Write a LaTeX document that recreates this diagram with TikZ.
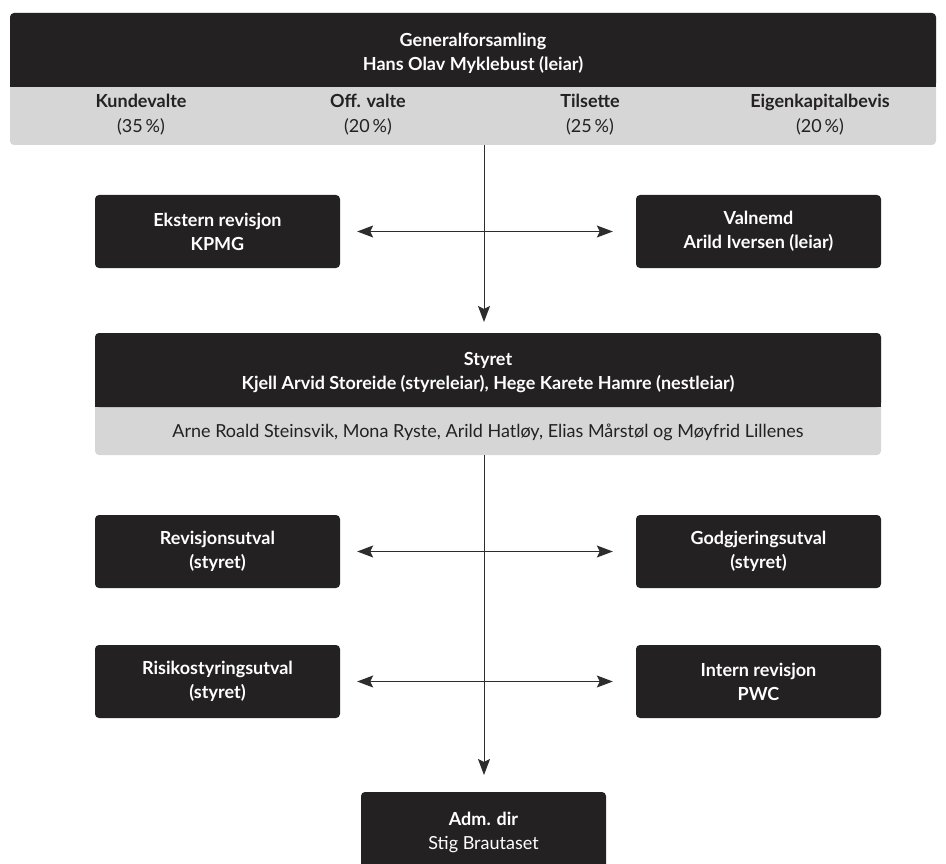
\documentclass[tikz,border=0pt]{standalone}
\usepackage{fontspec}
\setmainfont{Lato}
\usetikzlibrary{arrows.meta}
\definecolor{darkbox}{RGB}{35,33,34}
\definecolor{band}{RGB}{214,214,214}
\definecolor{linec}{RGB}{45,45,45}
\begin{document}
\begin{tikzpicture}[x=1pt,y=-1pt,
  dbox/.style={fill=darkbox,rounded corners=4pt,text=white,font=\fontsize{18}{24}\selectfont\bfseries,align=center,inner sep=0pt},
  sbox/.style={dbox,minimum width=245pt,minimum height=73pt},
  ttxt/.style={text=white,font=\fontsize{18}{24}\selectfont\bfseries,align=center,inner sep=0pt},
  bandtxt/.style={text=darkbox,font=\fontsize{18}{25}\selectfont,align=center,inner sep=0pt},
  tip/.style={Stealth[length=16pt,width=12pt,inset=3pt]},
  arr/.style={draw=linec,line width=1pt,-{Stealth[length=16pt,width=12pt,inset=3pt]}},
  darr/.style={draw=linec,line width=1pt,{Stealth[length=16pt,width=12pt,inset=3pt]}-{Stealth[length=16pt,width=12pt,inset=3pt]}}]
\useasboundingbox (0,0) rectangle (946,864);
% top block
\fill[band,rounded corners=4pt] (10,13) rectangle (936,145);
\node[dbox,minimum width=926pt,minimum height=74pt] (gf) at (473,50) {};
\fill[darkbox] (10,70) rectangle (936,87);
\node[ttxt] (gft) at (473,53) {Generalforsamling\\Hans Olav Myklebust (leiar)};
\node[inner sep=0pt,minimum width=926pt,minimum height=58pt] (gfband) at (473,116) {};
\node[bandtxt] (kv) at (141,115) {\bfseries Kundevalte\\(35\,\%)};
\node[bandtxt] (ov) at (368,115) {\bfseries Off. valte\\(20\,\%)};
\node[bandtxt] (ts) at (590,115) {\bfseries Tilsette\\(25\,\%)};
\node[bandtxt] (ek) at (820,115) {\bfseries Eigenkapitalbevis\\(20\,\%)};
% second row
\node[sbox] (ekst) at (217.5,231.5) {Ekstern revisjon\\KPMG};
\node[sbox] (valn) at (758.5,231.5) {Valnemd\\Arild Iversen (leiar)};
% styret
\fill[band,rounded corners=4pt] (95,333) rectangle (881,455);
\node[dbox,minimum width=786pt,minimum height=74pt] (styret) at (488,370) {};
\fill[darkbox] (95,390) rectangle (881,407);
\node[ttxt] (styrett) at (488,373) {Styret\\Kjell Arvid Storeide (styreleiar), Hege Karete Hamre (nestleiar)};
\node[inner sep=0pt,minimum width=786pt,minimum height=48pt] (stband) at (488,431) {};
\node[bandtxt] (medl) at (488,432) {Arne Roald Steinsvik, Mona Ryste, Arild Hatløy, Elias Mårstøl og Møyfrid Lillenes};
% utval
\node[sbox] (revu) at (217.5,551.5) {Revisjonsutval\\(styret)};
\node[sbox] (godg) at (758.5,551.5) {Godgjeringsutval\\(styret)};
\node[sbox] (risk) at (217.5,681.5) {Risikostyringsutval\\(styret)};
\node[sbox] (intr) at (758.5,681.5) {Intern revisjon\\PWC};
\node[sbox,minimum height=80pt] (adm) at (483.5,832) {Adm. dir\\\mdseries Stig Brautaset};
% connectors
\coordinate (a1) at (484,145);
\coordinate (a2) at (484,322);
\coordinate (b1) at (484,455);
\coordinate (b2) at (484,775);
\draw[arr] (a1) -- (a2);
\draw[arr] (b1) -- (b2);
\draw[darr,shorten <=17pt,shorten >=23pt] (ekst.east) -- (valn.west);
\draw[darr,shorten <=17pt,shorten >=23pt] (revu.east) -- (godg.west);
\draw[darr,shorten <=17pt,shorten >=23pt] (risk.east) -- (intr.west);
\end{tikzpicture}
\end{document}
